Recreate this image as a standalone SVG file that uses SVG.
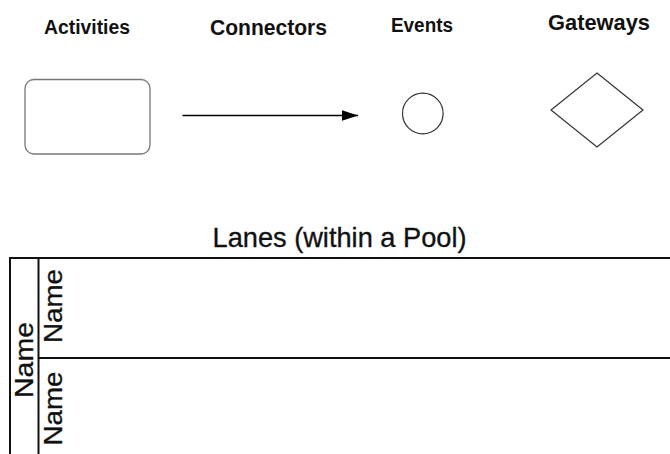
<svg xmlns="http://www.w3.org/2000/svg" width="670" height="454" viewBox="0 0 670 454">
  <style>
    .hdr { font-family: "Liberation Sans", Arial, sans-serif; font-weight: bold; fill: #111; text-anchor: middle; }
    .title { font-family: "Liberation Sans", Arial, sans-serif; font-size: 28.5px; fill: #111; stroke: #111; stroke-width: 0.35; text-anchor: middle; }
    .lbl { font-family: "Liberation Sans", Arial, sans-serif; font-size: 25.5px; fill: #111; stroke: #111; stroke-width: 0.3; text-anchor: middle; }
    .shape { fill: #fff; stroke: #333; stroke-width: 1.2; }
    .pool { fill: none; stroke: #111; stroke-width: 2; }
  </style>
  <defs>
    <marker id="arrow" markerUnits="userSpaceOnUse" markerWidth="17" markerHeight="12" refX="16.5" refY="5.5" orient="auto">
      <path d="M0,0 L16.5,5.5 L0,11 Z" fill="#000"/>
    </marker>
  </defs>
  <rect width="670" height="454" fill="#fff"/>

  <!-- column headings -->
  <g id="headings">
    <text class="hdr" x="87" y="33.5" font-size="20" textLength="86" lengthAdjust="spacingAndGlyphs">Activities</text>
    <text class="hdr" x="268.5" y="34.5" font-size="22" textLength="117" lengthAdjust="spacingAndGlyphs">Connectors</text>
    <text class="hdr" x="422" y="31.5" font-size="20" textLength="62" lengthAdjust="spacingAndGlyphs">Events</text>
    <text class="hdr" x="599" y="29.5" font-size="22.5" textLength="102" lengthAdjust="spacingAndGlyphs">Gateways</text>
  </g>

  <!-- activity: rounded task -->
  <g id="activity">
    <rect x="25" y="79.5" width="125" height="74.5" rx="9" ry="9" fill="#fff" stroke="#777" stroke-width="1.3"/>
  </g>

  <!-- sequence flow -->
  <g id="connectors">
    <line x1="182.5" y1="115.5" x2="358" y2="115.5" stroke="#000" stroke-width="1.3" marker-end="url(#arrow)"/>
  </g>

  <!-- event -->
  <g id="event">
    <circle class="shape" cx="422.8" cy="113.5" r="20.3"/>
  </g>

  <!-- gateway -->
  <g id="gateway">
    <polygon class="shape" points="597,73 643,110 597,147 551,110"/>
  </g>

  <!-- pool with two lanes -->
  <g id="pool">
    <text class="title" x="339.5" y="247" textLength="254" lengthAdjust="spacingAndGlyphs">Lanes (within a Pool)</text>
    <line class="pool" x1="10" y1="258" x2="670" y2="258"/>
    <line class="pool" x1="10" y1="257" x2="10" y2="454"/>
    <line class="pool" x1="38.5" y1="258" x2="38.5" y2="454"/>
    <text class="lbl" transform="translate(33 360) rotate(-90)" textLength="76" lengthAdjust="spacingAndGlyphs">Name</text>
  </g>
  <g id="lane1">
    <line class="pool" x1="38.5" y1="358" x2="670" y2="358"/>
    <text class="lbl" transform="translate(61.5 306) rotate(-90)" textLength="74" lengthAdjust="spacingAndGlyphs">Name</text>
  </g>
  <g id="lane2">
    <text class="lbl" transform="translate(61.5 408.5) rotate(-90)" textLength="74" lengthAdjust="spacingAndGlyphs">Name</text>
  </g>
</svg>
